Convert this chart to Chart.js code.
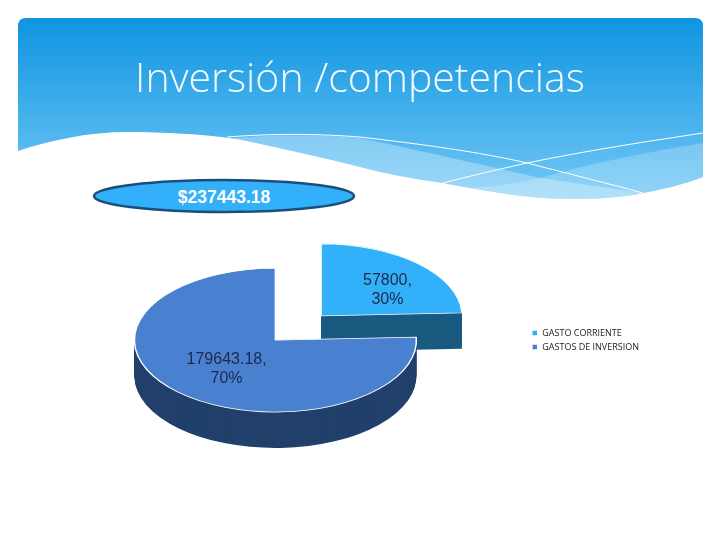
<!DOCTYPE html>
<html>
<head>
<meta charset="utf-8">
<title>Inversión /competencias</title>
<script src="https://cdn.jsdelivr.net/npm/chart.js@4"></script>
<style>
    html, body { margin: 0; padding: 0; background: #fff; }
    #slide { position: relative; width: 720px; height: 540px; overflow: hidden; }
    #slide svg, #slide canvas { position: absolute; left: 0; top: 0; }
</style>
</head>
<body>
<div id="slide">
    <svg width="720" height="540" viewBox="0 0 720 540">
        <defs>
            <linearGradient id="sky" x1="0" y1="18" x2="0" y2="200" gradientUnits="userSpaceOnUse">
                <stop offset="0" stop-color="#0e95e0"/>
                <stop offset="1" stop-color="#74c8f6"/>
            </linearGradient>
        </defs>
        <path fill="url(#sky)" d="M18 26 Q18 18 26 18 H695 Q703 18 703 26 V177 C685 184 665 189 643 193 C625 197 600 199 570 199 C520 198 480 190 443 183 C415 179 390 175 360 167 C320 157 280 148 237 139 C200 134 165 132 127 132 C90 132 50 140 18 151 Z"/>
        <path fill="#fff" fill-opacity="0.3" d="M232 138 C280 134 330 135 360 138 C400 146 460 160 540 178 L643 193 C625 197 600 199 570 199 C520 198 480 190 443 183 C415 179 390 175 360 167 C320 157 280 148 237 139 Z"/>
        <path fill="#fff" fill-opacity="0.22" d="M703 143 C660 150 590 163 540 178 C515 184 490 187 470 188 C500 194 535 198 570 199 C600 199 625 197 643 193 C665 189 685 184 703 177 Z"/>
        <path fill="none" stroke="#fff" stroke-width="1" d="M227 137 C280 133 320 134 360 137 C420 144 480 152 527 163 C570 174 610 184 643 193"/>
        <path fill="none" stroke="#fff" stroke-width="1" d="M443 183 C470 176 500 169 527 163 C590 150 650 141 703 133"/>
        <ellipse cx="224" cy="196" rx="130" ry="16" fill="#33b0fa" stroke="#1b4f7a" stroke-width="2.5"/>
        <text id="totalText" x="224" y="203" text-anchor="middle" fill="#fff" font-family="Liberation Sans" font-weight="bold" font-size="17.5"></text>
    </svg>
    <canvas id="pie" width="720" height="540"></canvas>
</div>
<script>
const chartTitle = 'Inversión /competencias';
const totalLabel = '$237443.18';
const categories = ['GASTO CORRIENTE', 'GASTOS DE INVERSION'];
const gastoValues = [57800, 179643.18];
const percentLabels = ['30%', '70%'];
const topColors = ['#33b0fa', '#4a80d0'];
const sideColors = ['#1a5a80', '#21406b'];

document.querySelector('#totalText').textContent = totalLabel;

const squash = 0.51;    // vertical flattening of the pie
const depth = 36;       // height of the side wall in pixels
const labelReach = [0.68, 0.5];
const labelNudge = [10, 3];

// draws the flattened pie with its side wall, small slice first
const pie3d = {
    id: 'pie3d',
    beforeDatasetDraw(chart, args) {
        let ctx = chart.ctx;
        args.meta.data.forEach((arc, i) => {
            let opts = arc.options;
            arc.options = {...opts, backgroundColor: sideColors[i], borderWidth: 0};
            for (let d = depth; d > 0; d--) {
                ctx.save();
                ctx.translate(0, d);
                flatten(ctx, arc);
                arc.draw(ctx);
                ctx.restore();
            }
            arc.options = opts;
            ctx.save();
            flatten(ctx, arc);
            arc.draw(ctx);
            ctx.restore();
        });
        return false;
    },
    afterDatasetsDraw(chart) {
        let ctx = chart.ctx;
        ctx.save();
        ctx.fillStyle = '#1b2a4a';
        ctx.font = '16px "Liberation Sans"';
        ctx.textAlign = 'center';
        ctx.textBaseline = 'middle';
        chart.getDatasetMeta(0).data.forEach((arc, i) => {
            let mid = (arc.startAngle + arc.endAngle) / 2;
            let r = (arc.options.offset || 0) / 4 + arc.outerRadius * labelReach[i];
            let x = arc.x + Math.cos(mid) * r;
            let y = arc.y + Math.sin(mid) * r * squash + labelNudge[i];
            ctx.fillText(gastoValues[i] + ',', x, y - 9.5);
            ctx.fillText(percentLabels[i], x, y + 9.5);
        });
        ctx.restore();
    },
    // the title is centred on the slide, not on the space left by the padding
    afterLayout(chart) {
        chart.titleBlock.left = 0;
        chart.titleBlock.right = chart.width;
    }
};

function flatten(ctx, arc) {
    ctx.translate(arc.x, arc.y);
    ctx.scale(1, squash);
    ctx.translate(-arc.x, -arc.y);
}

new Chart(document.querySelector('#pie'), {
    type: 'pie',
    data: {
        labels: categories,
        datasets: [{
            data: gastoValues,
            backgroundColor: topColors,
            borderColor: '#ffffff',
            borderWidth: 1.5,
            offset: [264, 0]
        }]
    },
    options: {
        responsive: false,
        animation: false,
        radius: 141,
        layout: { padding: { left: 24, right: 71, top: 56, bottom: 0 } },
        plugins: {
            title: {
                display: true,
                text: chartTitle,
                color: '#f4fbff',
                font: { family: 'Open Sans', size: 41, weight: 300 },
                padding: { top: 0, bottom: 35 }
            },
            legend: {
                position: 'right',
                fullSize: false,
                labels: {
                    boxWidth: 6,
                    boxHeight: 6,
                    padding: 5,
                    color: '#222222',
                    font: { family: 'Open Sans', size: 9 }
                }
            },
            tooltip: { enabled: false }
        }
    },
    plugins: [pie3d]
});
</script>
</body>
</html>
